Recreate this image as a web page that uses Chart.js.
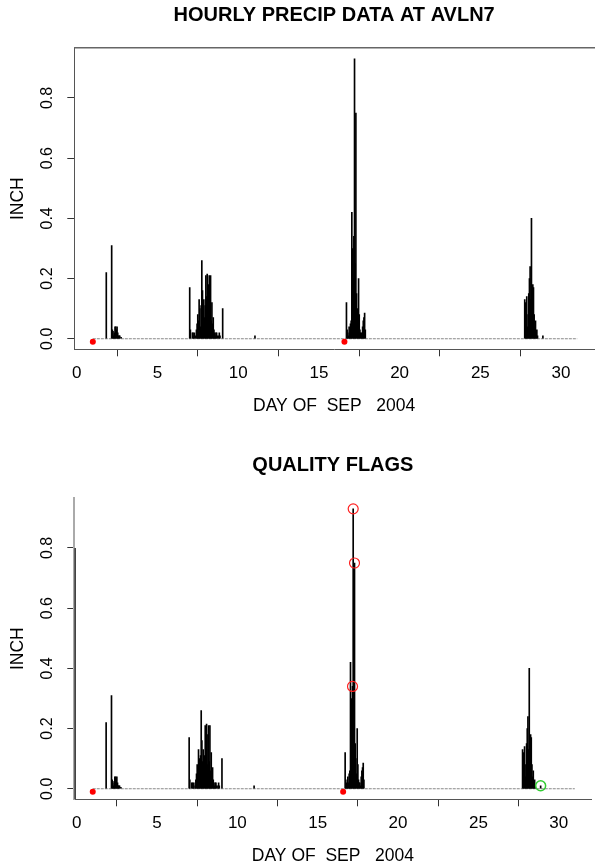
<!DOCTYPE html>
<html>
<head>
<meta charset="utf-8">
<script src="https://cdn.jsdelivr.net/npm/chart.js@4.4.0/dist/chart.umd.min.js"></script>
<style>
  html, body { margin: 0; padding: 0; background: #fff; }
  #wrap { position: relative; width: 598px; height: 864px; overflow: hidden; }
  canvas { position: absolute; left: 0; }
  #precip { top: 0; }
  #flags { top: 450px; }
</style>
</head>
<body>
<div id="wrap">
  <canvas id="precip" width="598" height="450"></canvas>
  <canvas id="flags" width="598" height="450"></canvas>
</div>
<script>
// hours after Sep 1 00:00 with non-zero hourly precip, and the amounts (inch)
var rainHours = [20, 28, 29, 30, 31, 32, 33, 34, 35, 36, 37, 38, 39, 40, 42,
  144, 145, 148, 149, 150, 151, 153, 154, 155, 156, 157, 158, 159, 160, 161, 162, 163, 164, 165, 166,
  167, 168, 169, 170, 171, 172, 173, 174, 175, 176, 177, 178, 179, 180, 181, 182, 183, 184, 185,
  187, 188, 189, 193,
  241,
  377, 378, 379, 380, 381, 382, 383, 384, 385, 386, 387, 388, 389, 390, 391, 392, 393, 394, 395,
  396, 397, 398, 399, 400, 401, 402, 403, 404, 405,
  642, 643, 644, 645, 646, 647, 648, 649, 650, 651, 652, 653, 654, 655, 656, 657, 658, 659, 660,
  661, 669];
var rainInches = [0.22, 0.31, 0.03, 0.025, 0.01, 0.02, 0.04, 0.04, 0.03, 0.04, 0.02, 0.01, 0.01, 0.01, 0.005,
  0.17, 0.03, 0.02, 0.02, 0.01, 0.02, 0.01, 0.03, 0.05, 0.08, 0.06, 0.13, 0.10, 0.04, 0.11, 0.26, 0.16, 0.09, 0.13, 0.07,
  0.11, 0.21, 0.14, 0.215, 0.08, 0.18, 0.21, 0.09, 0.21, 0.06, 0.12, 0.05, 0.07, 0.03, 0.02, 0.01, 0.02, 0.02, 0.01,
  0.01, 0.02, 0.01, 0.10,
  0.01,
  0.12, 0.03, 0.02, 0.01, 0.04, 0.02, 0.05, 0.06, 0.42, 0.30, 0.20, 0.34, 0.93, 0.25, 0.75, 0.15, 0.10, 0.05, 0.20,
  0.08, 0.03, 0.02, 0.02, 0.01, 0.04, 0.06, 0.07, 0.085, 0.03,
  0.13, 0.12, 0.10, 0.14, 0.04, 0.08, 0.15, 0.20, 0.24, 0.13, 0.40, 0.12, 0.18, 0.17, 0.08, 0.04, 0.06, 0.02, 0.03,
  0.01, 0.01];

// missing data markers (red dots under the baseline)
var missingHours = [0, 374];
var missingInches = [-0.01, -0.01];

// quality flags
var redFlagHours = [388, 389, 391];
var redFlagInches = [0.34, 0.93, 0.75];
var greenFlagHours = [669];
var greenFlagInches = [0.01];

// dark mark along the left edge of the flag plot
var edgeMarkDay = [-0.12, -0.12];
var edgeMarkInches = [-0.035, 0.8];

var firstDay = 1, lastDay = 31;
var xTicks = [0, 5, 10, 15, 20, 25, 30];
var yTicks = [0, 0.2, 0.4, 0.6, 0.8];

var FONT = "'Liberation Sans', Helvetica, Arial, sans-serif";

function toPoints(hours, vals) {
  return hours.map(function (h, i) { return { x: firstDay + h / 24, y: vals[i] }; });
}

function buildChart(id, titleText, withFlags) {
  var datasets = [
    {
      type: 'scatter',
      data: toPoints(missingHours, missingInches),
      pointRadius: 3, pointBackgroundColor: '#ff0000', pointBorderWidth: 0,
      order: 0
    },
    {
      type: 'bar',
      data: toPoints(rainHours, rainInches),
      backgroundColor: '#000',
      barThickness: 1,
      order: 2
    },
    {
      type: 'line',
      data: [{ x: firstDay, y: 0 }, { x: lastDay, y: 0 }],
      borderColor: '#888', borderWidth: 1, borderDash: [3, 1], pointRadius: 0,
      order: 3
    }
  ];
  if (withFlags) {
    datasets.push({
      type: 'scatter',
      data: toPoints(redFlagHours, redFlagInches),
      pointRadius: 5, pointBorderColor: '#ff2020', pointBackgroundColor: 'rgba(0,0,0,0)', pointBorderWidth: 1.2,
      order: 0
    });
    datasets.push({
      type: 'scatter',
      data: toPoints(greenFlagHours, greenFlagInches),
      pointRadius: 5, pointBorderColor: '#33cc33', pointBackgroundColor: 'rgba(0,0,0,0)', pointBorderWidth: 1.5,
      order: 0
    });
    datasets.push({
      type: 'line',
      data: edgeMarkDay.map(function (d, i) { return { x: d, y: edgeMarkInches[i] }; }),
      borderColor: '#444', borderWidth: 2.5, pointRadius: 0,
      order: 1
    });
  }

  var scales = {
    x: {
      type: 'linear', min: -0.148, max: 32.04, offset: false,
      afterBuildTicks: function (s) { s.ticks = xTicks.map(function (v) { return { value: v }; }); },
      afterFit: function (s) { s.height = 100.7; },
      grid: { drawOnChartArea: false, tickLength: 7, tickColor: '#333', tickWidth: 1 },
      border: { color: '#555', width: 1 },
      ticks: { font: { family: FONT, size: 17 }, color: '#000', padding: 6.5, maxRotation: 0, autoSkip: false },
      title: { display: true, text: 'DAY OF  SEP   2004', color: '#000',
        font: { family: FONT, size: 17.5 }, padding: { top: 0, bottom: 33.5 } }
    },
    y: {
      min: -0.035, max: 0.966,
      afterBuildTicks: function (s) { s.ticks = yTicks.map(function (v) { return { value: v }; }); },
      afterFit: function (s) { s.width = 74.3; },
      grid: { drawOnChartArea: false, tickLength: 7, tickColor: '#333', tickWidth: 1 },
      border: withFlags ? { color: '#aaa', width: 2 } : { color: '#555', width: 1 },
      ticks: {
        font: { family: FONT, size: 16 }, color: '#000',
        minRotation: 90, maxRotation: 90, crossAlign: 'center', padding: 8.5,
        callback: function (v) { return v.toFixed(1); }
      },
      title: { display: true, text: 'INCH', color: '#000',
        font: { family: FONT, size: 17.5 }, padding: { top: 7.5, bottom: 0 } }
    }
  };
  if (!withFlags) {
    scales.x2 = {
      type: 'linear', position: 'top', min: -0.148, max: 32.04,
      ticks: { display: false }, grid: { display: false },
      border: { display: true, color: '#666', width: 1.5 },
      afterFit: function (s) { s.height = 0; }
    };
  }

  return new Chart(document.getElementById(id), {
    type: 'bar',
    data: { datasets: datasets },
    options: {
      responsive: false,
      animation: false,
      devicePixelRatio: 1,
      layout: { padding: 0 },
      scales: scales,
      plugins: {
        legend: { display: false },
        tooltip: { enabled: false },
        title: {
          display: true, text: titleText, color: '#000', fullSize: false,
          font: { family: FONT, size: 20, weight: 'bold' },
          padding: { top: 3.5, bottom: 20.5 }
        }
      }
    }
  });
}

buildChart('precip', 'HOURLY PRECIP DATA AT AVLN7', false);
buildChart('flags', 'QUALITY FLAGS', true);
</script>
</body>
</html>
